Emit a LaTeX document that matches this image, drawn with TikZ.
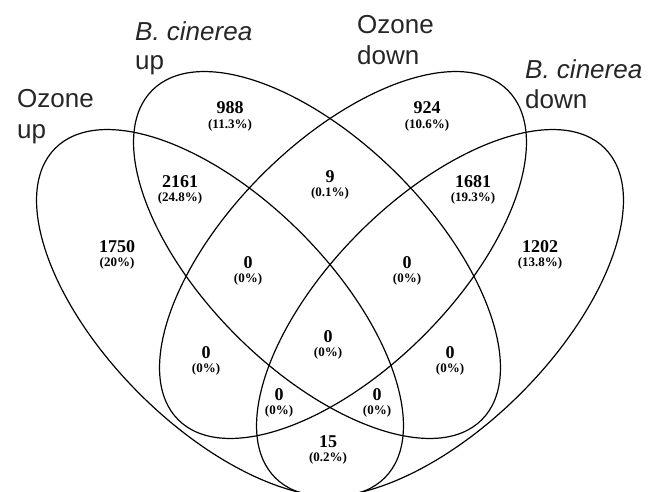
\documentclass[tikz,border=0pt]{standalone}
\usepackage{fontspec}
\setmainfont{Liberation Serif}
\newfontfamily\labelfont{Liberation Sans}

\begin{document}
\begin{tikzpicture}[x=1pt,y=-1pt]
\tikzset{
  setline/.style={line width=1.2pt, black},
  count/.style={font=\fontsize{18}{18}\selectfont\bfseries, inner sep=0pt},
  pct/.style={font=\fontsize{13}{13}\selectfont\bfseries, inner sep=0pt},
  setlabel/.style={font=\fontsize{26}{30}\selectfont\labelfont, anchor=base west, inner sep=0pt, text=black!85},
}
\useasboundingbox (0,0) rectangle (660,491);

% the four sets, all the same ellipse
\draw[setline, rotate around={-45:(220,313)}] (220,313) ellipse [x radius=233pt, y radius=114pt]; % Ozone up
\draw[setline, rotate around={-45:(317,255)}] (317,255) ellipse [x radius=233pt, y radius=114pt]; % B. cinerea up
\draw[setline, rotate around={45:(343,255)}]  (343,255) ellipse [x radius=233pt, y radius=114pt]; % Ozone down
\draw[setline, rotate around={45:(440,313)}]  (440,313) ellipse [x radius=233pt, y radius=114pt]; % B. cinerea down

% set names
\node[setlabel] (ozup1) at (17,107) {Ozone};
\node[setlabel] (ozup2) at (17,138) {up};
\node[setlabel] (bcup1) at (135,40) {\itshape B. cinerea};
\node[setlabel] (bcup2) at (135,69) {up};
\node[setlabel] (ozdn1) at (357,33) {Ozone};
\node[setlabel] (ozdn2) at (357,64) {down};
\node[setlabel] (bcdn1) at (525,78) {\itshape B. cinerea};
\node[setlabel] (bcdn2) at (525,108) {down};

% region counts
\node[count] (n988)  at (230,108) {988};  \node[pct] (p988)  at (230,125) {(11.3\%)};
\node[count] (n924)  at (427,108) {924};  \node[pct] (p924)  at (427,125) {(10.6\%)};
\node[count] (n2161) at (180,182) {2161}; \node[pct] (p2161) at (180,198) {(24.8\%)};
\node[count] (n9)    at (330,177) {9};    \node[pct] (p9)    at (330,193) {(0.1\%)};
\node[count] (n1681) at (473,182) {1681}; \node[pct] (p1681) at (473,198) {(19.3\%)};
\node[count] (n1750) at (117,247) {1750}; \node[pct] (p1750) at (117,263) {(20\%)};
\node[count] (n1202) at (540,247) {1202}; \node[pct] (p1202) at (540,263) {(13.8\%)};
\node[count] (nL)    at (248,263) {0};    \node[pct] (pL)    at (248,279) {(0\%)};
\node[count] (nR)    at (407,263) {0};    \node[pct] (pR)    at (407,279) {(0\%)};
\node[count] (nC)    at (328,337) {0};    \node[pct] (pC)    at (328,353) {(0\%)};
\node[count] (nLL)   at (206,353) {0};    \node[pct] (pLL)   at (206,369) {(0\%)};
\node[count] (nLR)   at (450,353) {0};    \node[pct] (pLR)   at (450,369) {(0\%)};
\node[count] (nBL)   at (279,395) {0};    \node[pct] (pBL)   at (279,411) {(0\%)};
\node[count] (nBR)   at (377,395) {0};    \node[pct] (pBR)   at (377,411) {(0\%)};
\node[count] (n15)   at (328,442) {15};   \node[pct] (p15)   at (328,458) {(0.2\%)};
\end{tikzpicture}
\end{document}
